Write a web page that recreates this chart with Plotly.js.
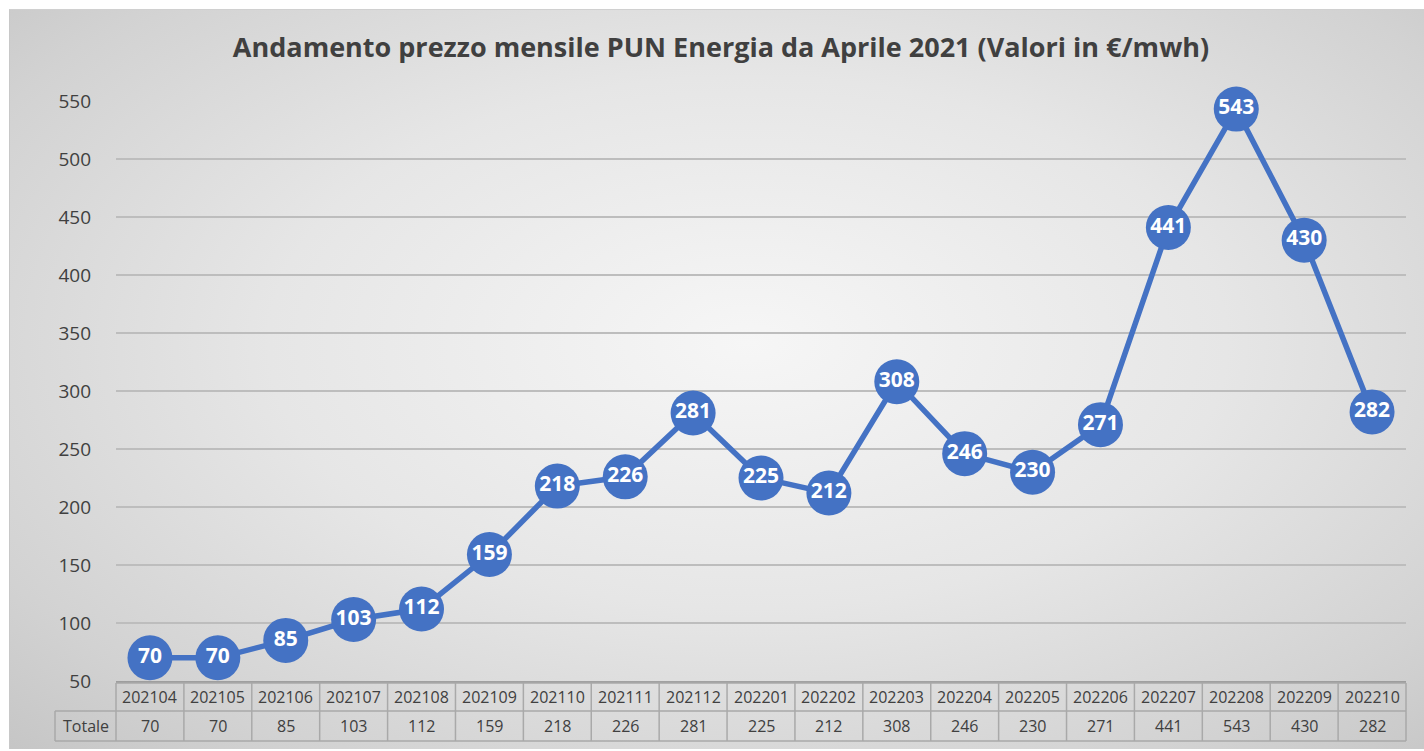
<!DOCTYPE html>
<html>
<head>
<meta charset="utf-8">
<script src="https://cdn.plot.ly/plotly-3.0.1.min.js"></script>
<style>
  html, body { margin:0; padding:0; background:#ffffff; width:1424px; height:751px; overflow:hidden; }
  #bg { position:absolute; left:9px; top:9px; width:1420px; height:740px;
        background: radial-gradient(ellipse 75% 80% at 52% 45%, #f6f6f6 0%, #e6e6e6 45%, #d2d2d2 80%, #c4c4c4 100%);
        border-top:1px solid #d0d0d0; border-left:1px solid #c8c8c8; box-sizing:border-box; }
  #chart { position:absolute; left:0; top:0; width:1424px; height:751px; }
</style>
</head>
<body>
<div id="bg"></div>
<div id="chart"></div>
<script>
const categories = ['202104','202105','202106','202107','202108','202109','202110','202111','202112','202201','202202','202203','202204','202205','202206','202207','202208','202209','202210'];
const values = [70,70,85,103,112,159,218,226,281,225,212,308,246,230,271,441,543,430,282];
const seriesName = 'Totale';
const yTicks = [50,100,150,200,250,300,350,400,450,500,550];

const plotLeft = 116, plotRight = 1406, plotTop = 101, plotBottom = 681, W = 1424, H = 751;
const plotW = plotRight - plotLeft, plotH = plotBottom - plotTop;
const n = categories.length;
const px2x = p => (p - plotLeft) / plotW;
const py2y = p => (plotBottom - p) / plotH;

const row1Top = py2y(683), row1Bot = py2y(711), row2Bot = py2y(741);
const totaleLeft = px2x(55);
const gridColor = '#a9a9a9';

const shapes = [];
const annotations = [];
shapes.push({type:'line', xref:'paper', yref:'paper', x0:0, x1:1, y0:py2y(682), y1:py2y(682), line:{color:'#8c8c8c', width:1.5}});
shapes.push({type:'line', xref:'paper', yref:'paper', x0:0, x1:1, y0:row1Top, y1:row1Top, line:{color:gridColor, width:1.5}});
shapes.push({type:'line', xref:'paper', yref:'paper', x0:totaleLeft, x1:1, y0:row1Bot, y1:row1Bot, line:{color:gridColor, width:1.5}});
shapes.push({type:'line', xref:'paper', yref:'paper', x0:totaleLeft, x1:1, y0:row2Bot, y1:row2Bot, line:{color:gridColor, width:1.5}});
shapes.push({type:'line', xref:'paper', yref:'paper', x0:totaleLeft, x1:totaleLeft, y0:row1Bot, y1:row2Bot, line:{color:gridColor, width:1.5}});
for (let i = 0; i <= n; i++) {
  const xb = i / n;
  shapes.push({type:'line', xref:'paper', yref:'paper', x0:xb, x1:xb, y0:row1Top, y1:row2Bot, line:{color:gridColor, width:1.5}});
}
const tableFont = {family:'Open Sans, sans-serif', size:16, color:'#404040'};
categories.forEach((c, i) => {
  annotations.push({xref:'paper', yref:'paper', x:(i + 0.5) / n, y:(row1Top + row1Bot) / 2, text:c, showarrow:false, font:tableFont, xanchor:'center', yanchor:'middle'});
  annotations.push({xref:'paper', yref:'paper', x:(i + 0.5) / n, y:(row1Bot + row2Bot) / 2, text:String(values[i]), showarrow:false, font:tableFont, xanchor:'center', yanchor:'middle'});
});
annotations.push({xref:'paper', yref:'paper', x:(totaleLeft + 0) / 2, y:(row1Bot + row2Bot) / 2, text:seriesName, showarrow:false, font:tableFont, xanchor:'center', yanchor:'middle'});

const trace = {
  x: categories.map((c, i) => i),
  y: values,
  type: 'scatter',
  mode: 'lines+markers+text',
  text: values.map(String),
  textposition: 'middle center',
  textfont: {family:'Open Sans, sans-serif', size:21, color:'#ffffff', weight:'bold'},
  line: {color:'#4472C4', width:5.5},
  marker: {color:'#4472C4', size:45, line:{width:0}},
  cliponaxis: false,
  hoverinfo: 'skip'
};

const layout = {
  width: W, height: H,
  paper_bgcolor: 'rgba(0,0,0,0)',
  plot_bgcolor: 'rgba(0,0,0,0)',
  margin: {l: plotLeft, r: W - plotRight, t: plotTop, b: H - plotBottom, pad: 0},
  showlegend: false,
  title: {
    text: '<b>Andamento prezzo mensile PUN Energia da Aprile 2021 (Valori in €/mwh)</b>',
    font: {family:'Open Sans, sans-serif', size:27, color:'#404040'},
    xref: 'container', yref: 'container', x: 721 / W, y: 1 - 48 / H, xanchor: 'center', yanchor: 'middle'
  },
  xaxis: {
    range: [-0.5, n - 0.5],
    showgrid: false, zeroline: false, showticklabels: false, showline: false, ticks: '', fixedrange: true
  },
  yaxis: {
    range: [50, 550],
    tickvals: yTicks,
    ticktext: yTicks.map(String),
    showgrid: true, gridcolor: '#bdbdbd', gridwidth: 1.5,
    zeroline: false, showline: false, ticks: '',
    ticklabelstandoff: 24,
    tickfont: {family:'Open Sans, sans-serif', size:19, color:'#404040'},
    fixedrange: true
  },
  shapes: shapes,
  annotations: annotations
};

Plotly.newPlot('chart', [trace], layout, {displayModeBar:false, staticPlot:true});
</script>
</body>
</html>
